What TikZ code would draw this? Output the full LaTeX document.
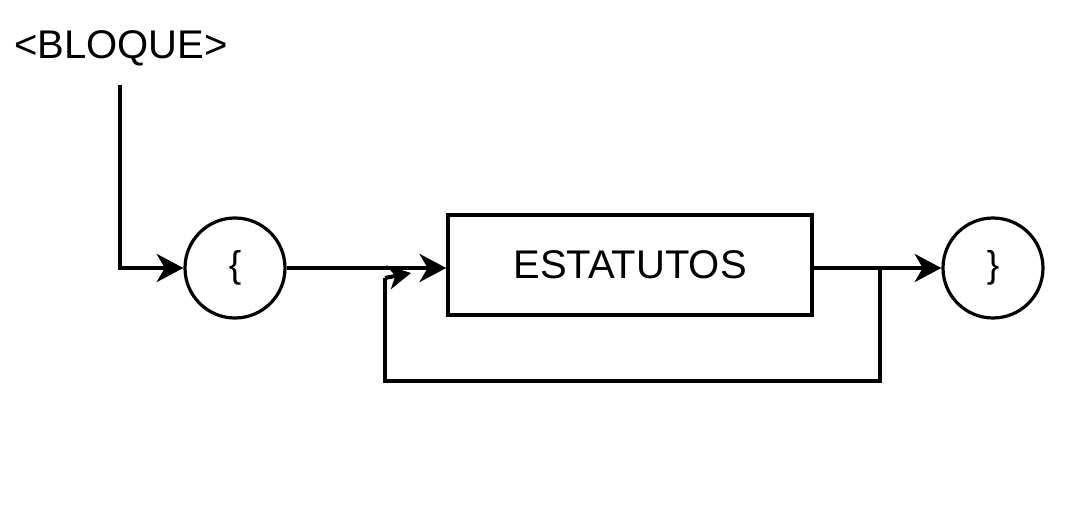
\documentclass[tikz,border=0pt]{standalone}
\usepackage{fontspec}
\setmainfont{Liberation Sans}
\usetikzlibrary{arrows.meta}
\begin{document}
\begin{tikzpicture}[x=0.75pt,y=-0.75pt,
  line/.style={line width=3pt,line join=miter},
  arr/.style={line, -{Stealth[length=20pt,width=21pt,inset=6pt]}},
  smallarr/.style={line, -{Stealth[length=17pt,width=18pt,inset=5pt]}},
  term/.style={circle,draw,line width=2.4pt,minimum size=75pt,inner sep=0pt,font=\fontsize{28}{32}\selectfont},
  nonterm/.style={rectangle,draw,line width=2.6pt,minimum width=273pt,minimum height=75pt,inner sep=0pt,font=\fontsize{30}{36}\selectfont},
  title/.style={font=\fontsize{30}{36}\selectfont,inner sep=0pt}]
\useasboundingbox (0,0) rectangle (1068,520);
\node[title] (bloque) at (121,48) {<BLOQUE>};
\coordinate (start) at (120,85);
\node[term] (lb) at (235,268) {\{};
\node[nonterm] (est) at (630,265) {ESTATUTOS};
\node[term] (rb) at (993,268) {\}};
\coordinate (split) at (880,268);
\coordinate (loopbot) at (880,381);
\coordinate (loopl) at (385,381);
\coordinate (loopup) at (385,278);
\coordinate (looptip) at (411,273);
\draw[arr] (start) |- (lb.west);
\draw[arr] (lb.east) -- (est.west |- lb.east);
\draw[arr] (est.east |- rb.west) -- (rb.west);
\draw[line] (split) -- (loopbot) -- (loopl) -- (loopup);
\draw[smallarr] (loopup) -- (looptip);
\end{tikzpicture}
\end{document}
